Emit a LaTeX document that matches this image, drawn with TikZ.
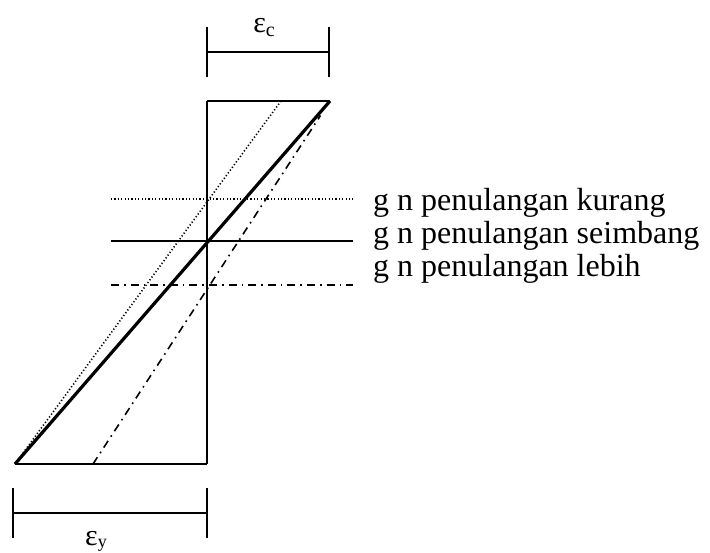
\documentclass[tikz,border=0pt]{standalone}
\usepackage{fontspec}
\setmainfont{Liberation Serif}
\begin{document}
\begin{tikzpicture}[x=1pt,y=-1pt,
  lbl/.style={anchor=base west, font=\fontsize{32}{36}\selectfont, inner sep=0pt},
  epsl/.style={anchor=base, font=\fontsize{30}{34}\selectfont, inner sep=0pt},
  ln/.style={line width=1.6pt},
  thickln/.style={line width=3.2pt},
  dotln/.style={line width=1.6pt, dash pattern=on 1.2pt off 2.2pt},
  dashdotln/.style={line width=1.6pt, dash pattern=on 8pt off 5pt on 1.6pt off 5pt}
]
\useasboundingbox (0,0) rectangle (710,552);
% main outline
\coordinate (TL) at (207,101);
\coordinate (TR) at (330,101);
\coordinate (BL) at (15,464);
\coordinate (BR) at (207,464);
\coordinate (DT) at (281,101);
\coordinate (CB) at (93,464);
\coordinate (CT) at (320.5,115.5);
\draw[ln] (TL) -- (BR);
\draw[ln] (TL) -- (TR);
\draw[ln] (BL) -- (BR);
\draw[thickln] (BL) -- (TR);
\draw[dotln] (BL) -- (DT);
\draw[dashdotln] (CB) -- (CT);
% neutral axis lines
\coordinate (K1) at (111,199); \coordinate (K2) at (353,199);
\coordinate (S1) at (111,241); \coordinate (S2) at (353,241);
\coordinate (L1) at (111,285); \coordinate (L2) at (353,285);
\draw[dotln] (K1) -- (K2);
\draw[ln, line width=2pt] (S1) -- (S2);
\draw[dashdotln] (L1) -- (L2);
\node[lbl] (lk) at (373,210) {g n penulangan kurang};
\node[lbl] (ls) at (373,243) {g n penulangan seimbang};
\node[lbl] (ll) at (373,276) {g n penulangan lebih};
% top dimension
\coordinate (a1) at (207,27); \coordinate (a2) at (207,77);
\coordinate (b1) at (329,27); \coordinate (b2) at (329,77);
\coordinate (am) at (207,52); \coordinate (bm) at (329,52);
\draw[ln] (a1) -- (a2);
\draw[ln] (b1) -- (b2);
\draw[ln] (am) -- (bm);
\node[epsl] (ec) at (264,32) {ε\raisebox{-4pt}{\fontsize{20}{20}\selectfont c}};
% bottom dimension
\coordinate (c1) at (13,488); \coordinate (c2) at (13,538);
\coordinate (d1) at (207,488); \coordinate (d2) at (207,538);
\coordinate (cm) at (13,513); \coordinate (dm) at (207,513);
\draw[ln] (c1) -- (c2);
\draw[ln] (d1) -- (d2);
\draw[ln] (cm) -- (dm);
\node[epsl] (ey) at (96,545) {ε\raisebox{-2pt}{\fontsize{18}{18}\selectfont y}};
\end{tikzpicture}
\end{document}
